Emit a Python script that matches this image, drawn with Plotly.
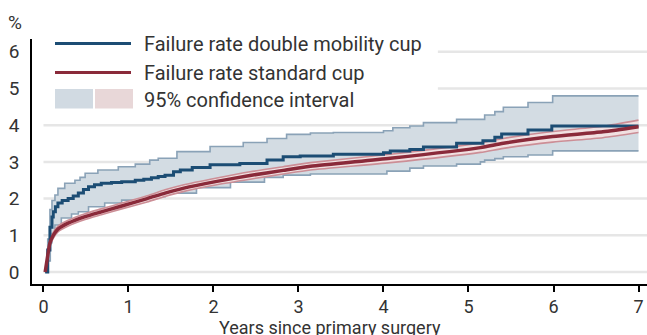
import plotly.graph_objects as go

# Cumulative failure rate (%) over years since primary surgery
dm_t = [0.02, 0.05, 0.076, 0.10, 0.115, 0.14, 0.17, 0.22, 0.29, 0.35, 0.41, 0.47, 0.53,
        0.60, 0.68, 0.80, 0.92, 1.08, 1.18, 1.27, 1.35, 1.43, 1.53, 1.61, 1.75, 1.96,
        2.31, 2.63, 2.82, 3.02, 3.41, 4.00, 4.08, 4.31, 4.47, 4.86, 5.17, 5.31, 5.39,
        5.70, 5.98, 7.00]
dm_rate = [0.0, 0.6, 1.22, 1.5, 1.64, 1.78, 1.88, 1.95, 2.0, 2.07, 2.15, 2.25, 2.32,
           2.38, 2.42, 2.44, 2.46, 2.5, 2.53, 2.57, 2.60, 2.64, 2.73, 2.78, 2.85, 2.92,
           2.96, 3.05, 3.14, 3.16, 3.21, 3.25, 3.30, 3.34, 3.41, 3.51, 3.58, 3.67, 3.76,
           3.87, 3.98, 3.98]

dm_hi_t = [0.02, 0.05, 0.076, 0.10, 0.135, 0.17, 0.25, 0.37, 0.43, 0.49, 0.64, 0.88,
           1.08, 1.25, 1.35, 1.57, 1.96, 2.35, 2.63, 2.86, 3.14, 3.41, 4.00, 4.11, 4.31,
           4.47, 4.86, 5.19, 5.31, 5.41, 5.70, 5.99, 7.00]
dm_hi = [0.0, 0.9, 1.7, 1.95, 2.1, 2.28, 2.42, 2.5, 2.58, 2.69, 2.78, 2.87,
         2.94, 3.05, 3.10, 3.28, 3.42, 3.53, 3.64, 3.75, 3.79, 3.80, 3.85, 3.93, 3.98,
         4.07, 4.16, 4.28, 4.37, 4.49, 4.62, 4.80, 4.80]

dm_lo_t = [0.02, 0.056, 0.08, 0.10, 0.135, 0.21, 0.33, 0.41, 0.53, 0.72, 0.92, 1.19,
           1.43, 1.80, 2.20, 2.60, 2.82, 3.14, 4.04, 4.31, 4.47, 4.86, 5.14, 5.19, 5.31,
           5.41, 5.70, 5.99, 7.00]
dm_lo = [0.0, 0.3, 0.8, 1.05, 1.28, 1.47, 1.58, 1.64, 1.78, 1.88, 1.96, 2.05,
         2.15, 2.30, 2.45, 2.58, 2.64, 2.67, 2.75, 2.83, 2.89, 2.94, 3.00, 3.05, 3.09,
         3.14, 3.19, 3.30, 3.30]

sc_t = [0.02, 0.05, 0.076, 0.115, 0.17, 0.29, 0.49, 0.68, 0.92, 1.22, 1.43, 1.64, 2.04,
        2.43, 2.82, 3.14, 4.08, 5.14, 5.41, 5.99, 6.58, 7.00]
sc_rate = [0.0, 0.45, 0.79, 1.0, 1.17, 1.33, 1.51, 1.64, 1.8, 2.0, 2.15, 2.28, 2.47,
           2.63, 2.77, 2.88, 3.1, 3.39, 3.51, 3.69, 3.82, 3.96]
sc_hi = [0.0, 0.5, 0.86, 1.08, 1.25, 1.41, 1.59, 1.72, 1.88, 2.08, 2.24, 2.37, 2.56,
         2.73, 2.87, 2.98, 3.21, 3.52, 3.64, 3.83, 3.97, 4.14]
sc_lo = [0.0, 0.4, 0.72, 0.92, 1.09, 1.25, 1.43, 1.56, 1.72, 1.91, 2.06, 2.19, 2.38,
         2.53, 2.67, 2.78, 2.98, 3.26, 3.37, 3.54, 3.66, 3.80]

y_ticks = [0, 1, 2, 3, 4, 5, 6]
x_ticks = [0, 1, 2, 3, 4, 5, 6, 7]
legend_labels = ["Failure rate double mobility cup", "Failure rate standard cup",
                 "95% confidence interval"]

BLUE = "#1c4d74"
BLUE_EDGE = "#8aa2b7"
BLUE_FILL = "#d3dce3"
RED = "#8a2a3a"
RED_EDGE = "#cc8e96"
RED_FILL = "#f1e0e1"
TEXT = "#333333"
GRID = "#e6e6e6"
FONT = "Roboto"

W, H = 647, 335
ML, MR, MT, MB = 32, 0, 39, 51
PW, PH = W - ML - MR, H - MT - MB


def px(x):
    return (x - ML) / PW


def py(y):
    return (H - MB - y) / PH


fig = go.Figure()

# Double mobility confidence band
fig.add_trace(go.Scatter(x=dm_lo_t, y=dm_lo, mode="lines", line_shape="hv",
                         line=dict(color=BLUE_EDGE, width=1.6), showlegend=False,
                         hoverinfo="skip"))
fig.add_trace(go.Scatter(x=dm_hi_t, y=dm_hi, mode="lines", line_shape="hv",
                         line=dict(color=BLUE_EDGE, width=1.6), fill="tonexty",
                         fillcolor=BLUE_FILL, showlegend=False, hoverinfo="skip"))

# Standard cup confidence band
fig.add_trace(go.Scatter(x=sc_t, y=sc_lo, mode="lines", line_shape="spline",
                         line=dict(color=RED_EDGE, width=1.6, smoothing=0.6),
                         showlegend=False, hoverinfo="skip"))
fig.add_trace(go.Scatter(x=sc_t, y=sc_hi, mode="lines", line_shape="spline",
                         line=dict(color=RED_EDGE, width=1.6, smoothing=0.6),
                         fill="tonexty", fillcolor=RED_FILL, showlegend=False,
                         hoverinfo="skip"))

# Main curves
fig.add_trace(go.Scatter(x=dm_t, y=dm_rate, mode="lines", line_shape="hv",
                         line=dict(color=BLUE, width=3), name=legend_labels[0],
                         showlegend=False))
fig.add_trace(go.Scatter(x=sc_t, y=sc_rate, mode="lines", line_shape="spline",
                         line=dict(color=RED, width=3.5, smoothing=0.6),
                         name=legend_labels[1], showlegend=False))

# Horizontal gridlines from x=0; the upper two stop short of the legend block
shapes = []
legend_right = 4.64
for v in y_ticks:
    x0 = legend_right if v >= 5 else 0
    shapes.append(dict(type="line", xref="x", yref="y", x0=x0, x1=7.2, y0=v, y1=v,
                       line=dict(color=GRID, width=2.5), layer="below"))

# Legend keys
shapes.append(dict(type="line", xref="paper", yref="paper", x0=px(55), x1=px(131),
                   y0=py(43.5), y1=py(43.5), line=dict(color=BLUE, width=3)))
shapes.append(dict(type="line", xref="paper", yref="paper", x0=px(55), x1=px(131),
                   y0=py(72.5), y1=py(72.5), line=dict(color=RED, width=3)))
shapes.append(dict(type="rect", xref="paper", yref="paper", x0=px(55), x1=px(93),
                   y0=py(108.5), y1=py(89), line=dict(width=0), fillcolor="#d1dae2"))
shapes.append(dict(type="rect", xref="paper", yref="paper", x0=px(95), x1=px(133),
                   y0=py(108.5), y1=py(89), line=dict(width=0), fillcolor="#e8d7d8"))

annotations = []
for label, yy in zip(legend_labels, [43.5, 72.5, 99.5]):
    annotations.append(dict(text=label, xref="paper", yref="paper", x=px(142), y=py(yy),
                            xanchor="left", yanchor="middle", showarrow=False,
                            font=dict(family=FONT, size=20, color=TEXT)))
annotations.append(dict(text="%", xref="paper", yref="paper", x=px(15), y=py(22),
                        xanchor="center", yanchor="middle", showarrow=False,
                        font=dict(family=FONT, size=19, color=TEXT)))
annotations.append(dict(text="Years since primary surgery", xref="paper", yref="paper",
                        x=px(330), y=py(327), xanchor="center", yanchor="middle",
                        showarrow=False, font=dict(family=FONT, size=18, color=TEXT)))

fig.update_layout(
    width=W, height=H,
    margin=dict(l=ML, r=MR, t=MT, b=MB, pad=0),
    paper_bgcolor="white", plot_bgcolor="white",
    shapes=shapes, annotations=annotations,
    font=dict(family=FONT, size=18, color=TEXT),
    showlegend=False,
    xaxis=dict(range=[-0.135, 7.1], tickvals=x_ticks, ticks="outside", ticklen=6,
               tickwidth=1.5, tickcolor="black", showline=True, linecolor="black",
               linewidth=1.5, showgrid=False, zeroline=False,
               tickfont=dict(family=FONT, size=18, color=TEXT)),
    yaxis=dict(range=[-0.327, 6.35], tickvals=y_ticks, ticks="", showline=True,
               linecolor="black", linewidth=1.5, showgrid=False, zeroline=False,
               ticklabelstandoff=7,
               tickfont=dict(family=FONT, size=19, color=TEXT)),
)

fig.write_html("out.html")
